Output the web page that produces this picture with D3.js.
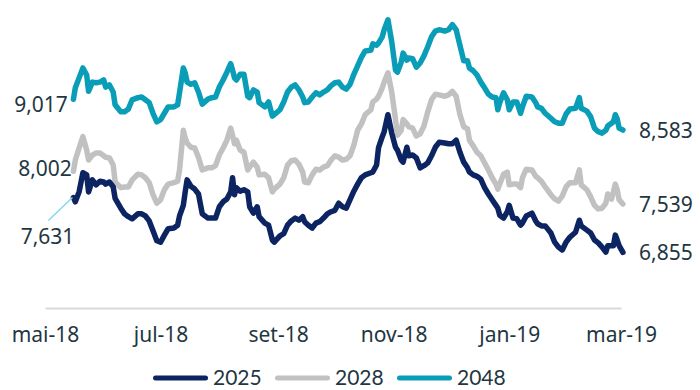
<!DOCTYPE html>
<html>
<head>
<meta charset="utf-8">
<script src="https://cdn.jsdelivr.net/npm/d3@7"></script>
<style>
  html, body { margin: 0; padding: 0; background: #ffffff; }
  svg { display: block; }
</style>
</head>
<body>
<svg id="chart" width="700" height="390"></svg>
<script>
// Observation dates shared by the three series
const dates = [
  "2018-05-16","2018-05-17","2018-05-19","2018-05-21","2018-05-23","2018-05-24","2018-05-26","2018-05-28","2018-05-30","2018-06-01",
  "2018-06-02","2018-06-04","2018-06-06","2018-06-07","2018-06-10","2018-06-12","2018-06-14","2018-06-16","2018-06-19","2018-06-21",
  "2018-06-23","2018-06-25","2018-06-27","2018-06-29","2018-07-01","2018-07-03","2018-07-05","2018-07-08","2018-07-10","2018-07-11",
  "2018-07-13","2018-07-14","2018-07-15","2018-07-17","2018-07-19","2018-07-21","2018-07-23","2018-07-26","2018-07-28","2018-07-30",
  "2018-08-01","2018-08-03","2018-08-05","2018-08-07","2018-08-08","2018-08-09","2018-08-10","2018-08-12","2018-08-14","2018-08-16",
  "2018-08-17","2018-08-19","2018-08-21","2018-08-22","2018-08-25","2018-08-27","2018-08-29","2018-08-30","2018-09-02","2018-09-04",
  "2018-09-06","2018-09-08","2018-09-10","2018-09-12","2018-09-14","2018-09-15","2018-09-17","2018-09-19","2018-09-21","2018-09-23",
  "2018-09-25","2018-09-27","2018-09-29","2018-10-01","2018-10-03","2018-10-05","2018-10-07","2018-10-09","2018-10-11","2018-10-13",
  "2018-10-15","2018-10-17","2018-10-20","2018-10-21","2018-10-23","2018-10-24","2018-10-26","2018-10-27","2018-10-29","2018-10-31",
  "2018-11-02","2018-11-03","2018-11-05","2018-11-06","2018-11-08","2018-11-09","2018-11-11","2018-11-13","2018-11-15","2018-11-17",
  "2018-11-19","2018-11-21","2018-11-23","2018-11-25","2018-11-28","2018-11-30","2018-12-02","2018-12-04","2018-12-06","2018-12-08",
  "2018-12-10","2018-12-11","2018-12-13","2018-12-15","2018-12-17","2018-12-19","2018-12-21","2018-12-23","2018-12-25","2018-12-26",
  "2018-12-27","2018-12-29","2018-12-31","2019-01-01","2019-01-03","2019-01-05","2019-01-07","2019-01-08","2019-01-10","2019-01-13",
  "2019-01-15","2019-01-16","2019-01-18","2019-01-20","2019-01-23","2019-01-25","2019-01-27","2019-01-29","2019-01-31","2019-02-02",
  "2019-02-05","2019-02-07","2019-02-08","2019-02-11","2019-02-13","2019-02-15","2019-02-17","2019-02-19","2019-02-21","2019-02-22",
  "2019-02-24","2019-02-25","2019-02-26","2019-02-27","2019-02-28","2019-03-02"
];

const s2025 = [
  7.631,7.57,7.71,7.98,7.95,7.71,7.88,7.81,7.86,7.85,
  7.82,7.85,7.78,7.62,7.48,7.40,7.36,7.33,7.40,7.40,
  7.37,7.30,7.16,7.02,7.00,7.10,7.19,7.20,7.24,7.37,
  7.52,7.71,7.88,7.79,7.75,7.68,7.40,7.34,7.34,7.34,
  7.50,7.57,7.61,7.71,7.91,7.67,7.77,7.72,7.74,7.71,
  7.50,7.41,7.50,7.36,7.27,7.24,7.03,7.00,7.09,7.12,
  7.24,7.30,7.34,7.31,7.36,7.29,7.24,7.20,7.27,7.29,
  7.34,7.40,7.43,7.45,7.55,7.50,7.48,7.60,7.72,7.82,
  7.91,7.95,7.98,7.99,8.09,8.33,8.49,8.56,8.80,8.54,
  8.34,8.30,8.16,8.13,8.34,8.22,8.23,8.19,8.05,8.08,
  8.12,8.22,8.34,8.41,8.40,8.39,8.39,8.44,8.27,8.13,
  8.05,7.99,7.95,7.93,7.89,7.77,7.68,7.60,7.52,7.48,
  7.38,7.34,7.43,7.52,7.34,7.33,7.24,7.27,7.37,7.41,
  7.30,7.26,7.23,7.23,7.13,7.00,6.93,6.89,7.00,7.07,
  7.14,7.31,7.23,7.17,7.13,7.03,6.99,6.93,6.86,6.95,
  6.95,6.95,7.10,7.03,6.95,6.855
];

const s2028 = [
  8.002,8.16,8.33,8.49,8.30,8.16,8.23,8.26,8.26,8.22,
  8.20,8.19,8.09,7.85,7.77,7.78,7.78,7.88,7.96,7.95,
  7.91,7.84,7.67,7.55,7.60,7.74,7.82,7.84,7.86,8.02,
  8.58,8.47,8.40,8.34,8.33,8.20,8.02,8.05,8.05,8.08,
  8.23,8.33,8.44,8.61,8.51,8.39,8.44,8.30,8.27,8.02,
  8.06,8.13,8.06,7.95,7.96,7.91,7.71,7.75,7.82,7.91,
  8.09,8.15,8.16,8.10,7.99,7.85,7.84,7.95,8.03,8.02,
  8.06,8.08,8.16,8.22,8.20,8.16,8.17,8.22,8.37,8.58,
  8.67,8.80,8.87,8.98,9.02,9.06,9.18,9.26,9.39,9.12,
  8.73,8.51,8.58,8.73,8.67,8.63,8.61,8.50,8.53,8.64,
  8.84,9.01,9.09,9.08,9.06,9.08,9.13,9.06,8.80,8.63,
  8.60,8.44,8.36,8.27,8.22,8.12,8.02,7.91,7.82,7.75,
  7.82,7.96,7.99,7.81,7.82,7.82,7.77,7.91,8.03,8.02,
  7.93,7.91,7.86,7.78,7.67,7.61,7.58,7.65,7.78,7.84,
  7.84,8.02,7.81,7.74,7.64,7.52,7.47,7.48,7.55,7.68,
  7.61,7.71,7.82,7.74,7.60,7.539
];

const s2048 = [
  9.017,9.18,9.32,9.46,9.36,9.13,9.26,9.25,9.26,9.29,
  9.19,9.22,9.12,8.94,8.84,8.84,8.88,9.01,9.04,9.05,
  9.01,8.97,8.82,8.70,8.73,8.82,8.91,8.91,8.94,9.11,
  9.46,9.39,9.26,9.23,9.25,9.12,8.95,9.02,9.04,9.05,
  9.19,9.29,9.40,9.52,9.43,9.32,9.29,9.37,9.37,9.06,
  9.04,9.15,9.12,8.97,8.91,8.98,8.78,8.80,8.87,8.98,
  9.12,9.19,9.22,9.15,9.05,8.97,8.98,9.05,9.11,9.08,
  9.12,9.15,9.21,9.25,9.26,9.19,9.16,9.23,9.37,9.49,
  9.61,9.70,9.71,9.80,9.78,9.81,9.90,10.00,10.14,9.83,
  9.43,9.40,9.54,9.67,9.57,9.60,9.59,9.47,9.53,9.63,
  9.76,9.90,9.98,10.00,9.98,10.00,10.07,10.00,9.78,9.56,
  9.56,9.46,9.42,9.36,9.26,9.18,9.09,9.05,9.04,8.87,
  8.97,9.11,9.01,8.87,8.98,8.98,8.82,8.91,9.06,9.05,
  8.97,8.91,8.89,8.82,8.75,8.70,8.68,8.68,8.81,8.88,
  8.89,9.04,8.89,8.85,8.77,8.61,8.56,8.54,8.58,8.64,
  8.68,8.70,8.80,8.74,8.61,8.583
];

const seriesNames = ["2025", "2028", "2048"];
const tickDates = ["2018-05-01","2018-07-01","2018-09-01","2018-11-01","2019-01-01","2019-03-01"];
const tickLabels = ["mai-18","jul-18","set-18","nov-18","jan-19","mar-19"];

const parse = d3.timeParse("%Y-%m-%d");
// Portuguese number style: comma as decimal separator
const ptBR = d3.formatLocale({ decimal: ",", thousands: ".", grouping: [3], currency: ["R$", ""] });
const fmt = ptBR.format(".3f");

const colors = { "2025": "#0c2461", "2028": "#c1c1c1", "2048": "#0a9db8" };
const valuesByName = { "2025": s2025, "2028": s2028, "2048": s2048 };
const labelFont = "'Noto Sans', sans-serif";
const textColor = "#1f3742";

const svg = d3.select("#chart");

const x = d3.scaleTime()
  .domain([parse("2018-05-01"), parse("2019-03-01")])
  .range([45, 621]);

const y = d3.scaleLinear()
  .domain([6, 10.25])
  .range([313, 12]);

// x axis: light baseline with month labels
const axis = d3.axisBottom(x)
  .tickValues(tickDates.map(parse))
  .tickFormat((d, i) => tickLabels[i])
  .tickSize(0)
  .tickSizeOuter(0);

const gx = svg.append("g")
  .attr("transform", "translate(0,308)")
  .call(axis);
gx.select(".domain")
  .attr("stroke", "#dadada")
  .attr("stroke-width", 2);
gx.selectAll(".tick text")
  .attr("y", 33.5)
  .attr("dy", 0)
  .attr("fill", textColor)
  .style("font-family", labelFont)
  .style("font-size", "21px");

// lines, longest maturity drawn first
const line = d3.line()
  .x((d, i) => x(parse(dates[i])))
  .y(d => y(d));

["2048", "2028", "2025"].forEach(name => {
  svg.append("path")
    .datum(valuesByName[name])
    .attr("fill", "none")
    .attr("stroke", colors[name])
    .attr("stroke-width", 5.5)
    .attr("stroke-linejoin", "round")
    .attr("stroke-linecap", "round")
    .attr("d", line);
});

// first-value labels on the left
const startLabels = [
  { name: "2048", cx: 41, dy: 12.5 },
  { name: "2028", cx: 45, dy: 5 },
  { name: "2025", cx: 47.5, dy: 46.5 }
];
startLabels.forEach(l => {
  const v = valuesByName[l.name][0];
  svg.append("text")
    .attr("x", l.cx)
    .attr("y", y(v) + l.dy)
    .attr("text-anchor", "middle")
    .attr("fill", textColor)
    .style("font-family", labelFont)
    .style("font-size", "21px")
    .text(fmt(v));
});

// leader from the 2025 start point to its label
const p0x = x(parse(dates[0])), p0y = y(s2025[0]);
svg.append("line")
  .attr("x1", p0x - 1).attr("y1", p0y)
  .attr("x2", p0x - 25).attr("y2", p0y + 23)
  .attr("stroke", "#82d8f0")
  .attr("stroke-width", 1.5);

// last-value labels on the right
const last = dates.length - 1;
seriesNames.forEach(name => {
  const v = valuesByName[name][last];
  svg.append("text")
    .attr("x", 639)
    .attr("y", y(v) + 7.5)
    .attr("fill", textColor)
    .style("font-family", labelFont)
    .style("font-size", "21px")
    .text(fmt(v));
});

// legend along the bottom edge
const legendX = [153, 275, 397];
seriesNames.forEach((name, i) => {
  const lx = legendX[i];
  svg.append("line")
    .attr("x1", lx + 2.5).attr("x2", lx + 52.5)
    .attr("y1", 378).attr("y2", 378)
    .attr("stroke", colors[name])
    .attr("stroke-width", 5)
    .attr("stroke-linecap", "round");
  svg.append("text")
    .attr("x", lx + 60)
    .attr("y", 385)
    .attr("fill", textColor)
    .style("font-family", "Lato, sans-serif")
    .style("font-size", "21px")
    .text(name);
});
</script>
</body>
</html>
